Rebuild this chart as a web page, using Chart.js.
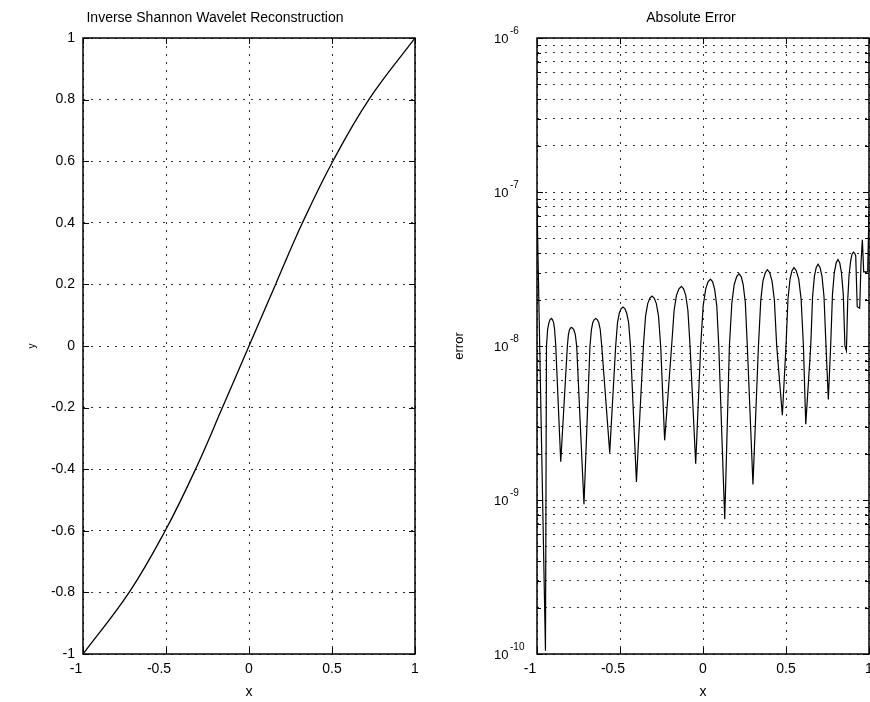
<!DOCTYPE html>
<html lang="en">
<head>
    <meta charset="UTF-8">
    <title>Inverse Shannon Wavelet Reconstruction</title>
    <style>
        html, body { margin: 0; padding: 0; background: #fff; }
        .wrap { position: relative; width: 870px; height: 702px; }
        canvas { position: absolute; top: 0; }
        #reconChart { left: 0; }
        #errorChart { left: 440px; }
    </style>
</head>
<body>
    <div class="wrap">
        <canvas id="reconChart" width="440" height="702"></canvas>
        <canvas id="errorChart" width="430" height="702"></canvas>
    </div>

    <script src="https://cdn.jsdelivr.net/npm/chart.js"></script>
    <script>
        // left panel: reconstructed signal
        const reconX = [-1, -0.722, -0.505, -0.322, -0.16, 0, 0.16, 0.322, 0.505, 0.722, 1];
        const reconY = [-1, -0.8, -0.6, -0.4, -0.2, 0, 0.2, 0.4, 0.6, 0.8, 1];

        // right panel: absolute error
        const errX = [
            -1.000, -0.949,
            -0.943, -0.936, -0.928, -0.921, -0.913, -0.907, -0.900, -0.894, -0.887, -0.857,
            -0.817, -0.811, -0.805, -0.799, -0.793, -0.785, -0.777, -0.769, -0.761, -0.717,
            -0.681, -0.672, -0.664, -0.655, -0.646, -0.637, -0.628, -0.619, -0.610, -0.562,
            -0.526, -0.515, -0.504, -0.493, -0.482, -0.471, -0.460, -0.448, -0.437, -0.401,
            -0.359, -0.346, -0.333, -0.320, -0.307, -0.294, -0.281, -0.268, -0.255, -0.231,
            -0.189, -0.174, -0.160, -0.145, -0.130, -0.117, -0.104, -0.091, -0.078, -0.044,
            -0.014, 0.001, 0.016, 0.030, 0.045, 0.058, 0.070, 0.083, 0.095, 0.131,
            0.159, 0.174, 0.188, 0.203, 0.217, 0.230, 0.242, 0.255, 0.267, 0.301,
            0.334, 0.348, 0.361, 0.375, 0.388, 0.402, 0.416, 0.430, 0.444, 0.478,
            0.500, 0.512, 0.524, 0.536, 0.548, 0.562, 0.577, 0.591, 0.605, 0.619,
            0.649, 0.660, 0.671, 0.682, 0.693, 0.705, 0.717, 0.729, 0.741, 0.755,
            0.769, 0.780, 0.791, 0.802, 0.813, 0.824, 0.834, 0.845, 0.855, 0.864,
            0.872, 0.880, 0.890, 0.898, 0.906, 0.914, 0.920, 0.929, 0.944,
            0.952, 0.960, 0.968, 0.992, 1.000
        ];
        const errY = [
            8.5e-8, 1.05e-10,
            1e-8, 1.28e-8, 1.42e-8, 1.485e-8, 1.51e-8, 1.485e-8, 1.42e-8, 1.28e-8, 1e-8, 1.77e-9,
            1e-8, 1.18e-8, 1.266e-8, 1.305e-8, 1.32e-8, 1.305e-8, 1.266e-8, 1.18e-8, 1e-8, 9.4e-10,
            1e-8, 1.28e-8, 1.42e-8, 1.485e-8, 1.51e-8, 1.485e-8, 1.42e-8, 1.28e-8, 1e-8, 2.03e-9,
            1e-8, 1.418e-8, 1.64e-8, 1.749e-8, 1.79e-8, 1.749e-8, 1.64e-8, 1.418e-8, 1e-8, 1.31e-9,
            1e-8, 1.565e-8, 1.886e-8, 2.048e-8, 2.11e-8, 2.048e-8, 1.886e-8, 1.565e-8, 1e-8, 2.44e-9,
            1e-8, 1.708e-8, 2.134e-8, 2.354e-8, 2.44e-8, 2.354e-8, 2.134e-8, 1.708e-8, 1e-8, 1.72e-9,
            1e-8, 1.823e-8, 2.341e-8, 2.613e-8, 2.72e-8, 2.613e-8, 2.341e-8, 1.823e-8, 1e-8, 7.5e-10,
            1e-8, 1.914e-8, 2.508e-8, 2.825e-8, 2.95e-8, 2.825e-8, 2.508e-8, 1.914e-8, 1e-8, 1.26e-9,
            1e-8, 1.983e-8, 2.638e-8, 2.99e-8, 3.13e-8, 2.99e-8, 2.638e-8, 1.983e-8, 1e-8, 3.55e-9,
            1e-8, 2.021e-8, 2.709e-8, 3.082e-8, 3.23e-8, 3.082e-8, 2.709e-8, 2.021e-8, 1e-8, 3.1e-9,
            1e-8, 2.084e-8, 2.83e-8, 3.237e-8, 3.4e-8, 3.237e-8, 2.83e-8, 2.084e-8, 1e-8, 4.5e-9,
            1e-8, 2.171e-8, 2.998e-8, 3.456e-8, 3.64e-8, 3.456e-8, 2.998e-8, 2.171e-8, 1e-8, 9.3e-9,
            2.0e-8, 2.9e-8, 3.6e-8, 3.95e-8, 4.07e-8, 4.0e-8, 3.85e-8, 1.8e-8, 1.76e-8,
            3.5e-8, 4.9e-8, 3.03e-8, 3.03e-8, 7.5e-8
        ];

        // ticks
        const xTicks = [-1, -0.5, 0, 0.5, 1];
        const reconYTicks = [-1, -0.8, -0.6, -0.4, -0.2, 0, 0.2, 0.4, 0.6, 0.8, 1];
        const decades = [-10, -9, -8, -7];
        const mantissas = [1, 2, 3, 4, 5, 6, 7, 8, 9];
        const topDecade = -6;

        const FONT = '"Liberation Sans", Arial, Helvetica, sans-serif';
        const GRID = 'rgba(0,0,0,0.8)';
        const DOTS = [2, 6];

        const logTicks = [];
        decades.forEach(e => mantissas.forEach(m => logTicks.push(m * Math.pow(10, e))));
        logTicks.push(Math.pow(10, topDecade));

        function isDecade(v) {
            const e = Math.log10(v);
            return Math.abs(e - Math.round(e)) < 1e-6;
        }

        // box around the axes, inward tick marks, panel title, and 10^n labels
        const framePlugin = {
            id: 'frame',
            afterDraw(chart, args, opts) {
                const { ctx, chartArea: a, scales } = chart;
                ctx.save();
                ctx.strokeStyle = '#000';
                ctx.lineWidth = 1;
                ctx.beginPath();
                scales.x.ticks.forEach(t => {
                    const px = Math.round(scales.x.getPixelForValue(t.value)) + 0.5;
                    ctx.moveTo(px, a.bottom); ctx.lineTo(px, a.bottom - 6);
                    ctx.moveTo(px, a.top); ctx.lineTo(px, a.top + 6);
                });
                scales.y.ticks.forEach(t => {
                    const py = Math.round(scales.y.getPixelForValue(t.value)) + 0.5;
                    const len = opts.log && !isDecade(t.value) ? 4 : 6;
                    ctx.moveTo(a.left, py); ctx.lineTo(a.left + len, py);
                    ctx.moveTo(a.right, py); ctx.lineTo(a.right - len, py);
                });
                ctx.stroke();
                ctx.lineWidth = 1.5;
                ctx.strokeRect(a.left, a.top, a.right - a.left, a.bottom - a.top);

                ctx.fillStyle = '#000';
                ctx.font = '14px ' + FONT;
                ctx.textAlign = 'center';
                ctx.textBaseline = 'middle';
                ctx.fillText(opts.text, opts.x, opts.y);

                if (opts.log) {
                    ctx.textAlign = 'left';
                    decades.concat([topDecade]).forEach(e => {
                        const py = scales.y.getPixelForValue(Math.pow(10, e));
                        ctx.font = '13px ' + FONT;
                        ctx.fillText('10', a.left - 43, py + 1);
                        ctx.font = '10px ' + FONT;
                        ctx.fillText(String(e), a.left - 27, py - 7);
                    });
                }
                ctx.restore();
            }
        };

        // negative labels sit a little left of their tick in the original
        function xLabel(v) {
            return v < 0 ? String(v) + '\u2003' : String(v);
        }

        function xScale() {
            return {
                type: 'linear', min: -1, max: 1,
                afterBuildTicks: s => { s.ticks = xTicks.map(v => ({ value: v })); },
                afterFit: s => { s.height = 48; s.paddingLeft = 0; s.paddingRight = 0; },
                grid: { color: GRID, drawTicks: false },
                border: { display: false, dash: DOTS },
                ticks: { color: '#000', padding: 7, font: { family: FONT, size: 14 }, callback: v => xLabel(v) },
                title: { display: true, text: 'x', color: '#000', font: { family: FONT, size: 14 }, padding: { top: 0, bottom: 1 } }
            };
        }

        new Chart(document.getElementById('reconChart'), {
            type: 'line',
            data: {
                datasets: [{
                    data: reconX.map((x, i) => ({ x, y: reconY[i] })),
                    borderColor: '#000',
                    borderWidth: 1.3,
                    pointRadius: 0,
                    tension: 0.4,
                    fill: false
                }]
            },
            options: {
                responsive: false,
                animation: false,
                layout: { padding: { top: 38, right: 25, left: 0, bottom: 0 } },
                plugins: {
                    legend: { display: false },
                    tooltip: { enabled: false },
                    frame: { text: 'Inverse Shannon Wavelet Reconstruction', x: 215, y: 18 }
                },
                scales: {
                    x: xScale(),
                    y: {
                        type: 'linear', min: -1, max: 1,
                        afterBuildTicks: s => { s.ticks = reconYTicks.map(v => ({ value: v })); },
                        afterFit: s => { s.width = 83; s.paddingTop = 0; s.paddingBottom = 0; },
                        grid: { color: GRID, drawTicks: false },
                        border: { display: false, dash: DOTS },
                        ticks: { color: '#000', padding: 8, font: { family: FONT, size: 14 }, callback: v => String(v) },
                        title: { display: true, text: 'y', color: '#000', font: { family: FONT, size: 10 }, padding: { top: 26, bottom: 0 } }
                    }
                }
            },
            plugins: [framePlugin]
        });

        new Chart(document.getElementById('errorChart'), {
            type: 'line',
            data: {
                datasets: [{
                    data: errX.map((x, i) => ({ x, y: errY[i] })),
                    borderColor: '#000',
                    borderWidth: 1.2,
                    pointRadius: 0,
                    tension: 0,
                    fill: false
                }]
            },
            options: {
                responsive: false,
                animation: false,
                layout: { padding: { top: 38, right: 1, left: 0, bottom: 0 } },
                plugins: {
                    legend: { display: false },
                    tooltip: { enabled: false },
                    frame: { text: 'Absolute Error', x: 251, y: 18, log: true }
                },
                scales: {
                    x: xScale(),
                    y: {
                        type: 'logarithmic', min: 1e-10, max: 1e-6,
                        afterBuildTicks: s => { s.ticks = logTicks.map(v => ({ value: v })); },
                        afterFit: s => { s.width = 97; s.paddingTop = 0; s.paddingBottom = 0; },
                        grid: { color: GRID, drawTicks: false },
                        border: { display: false, dash: DOTS },
                        ticks: { display: false, autoSkip: false },
                        title: { display: true, text: 'error', color: '#000', font: { family: FONT, size: 13 }, padding: { top: 12, bottom: 0 } }
                    }
                }
            },
            plugins: [framePlugin]
        });
    </script>
</body>
</html>
